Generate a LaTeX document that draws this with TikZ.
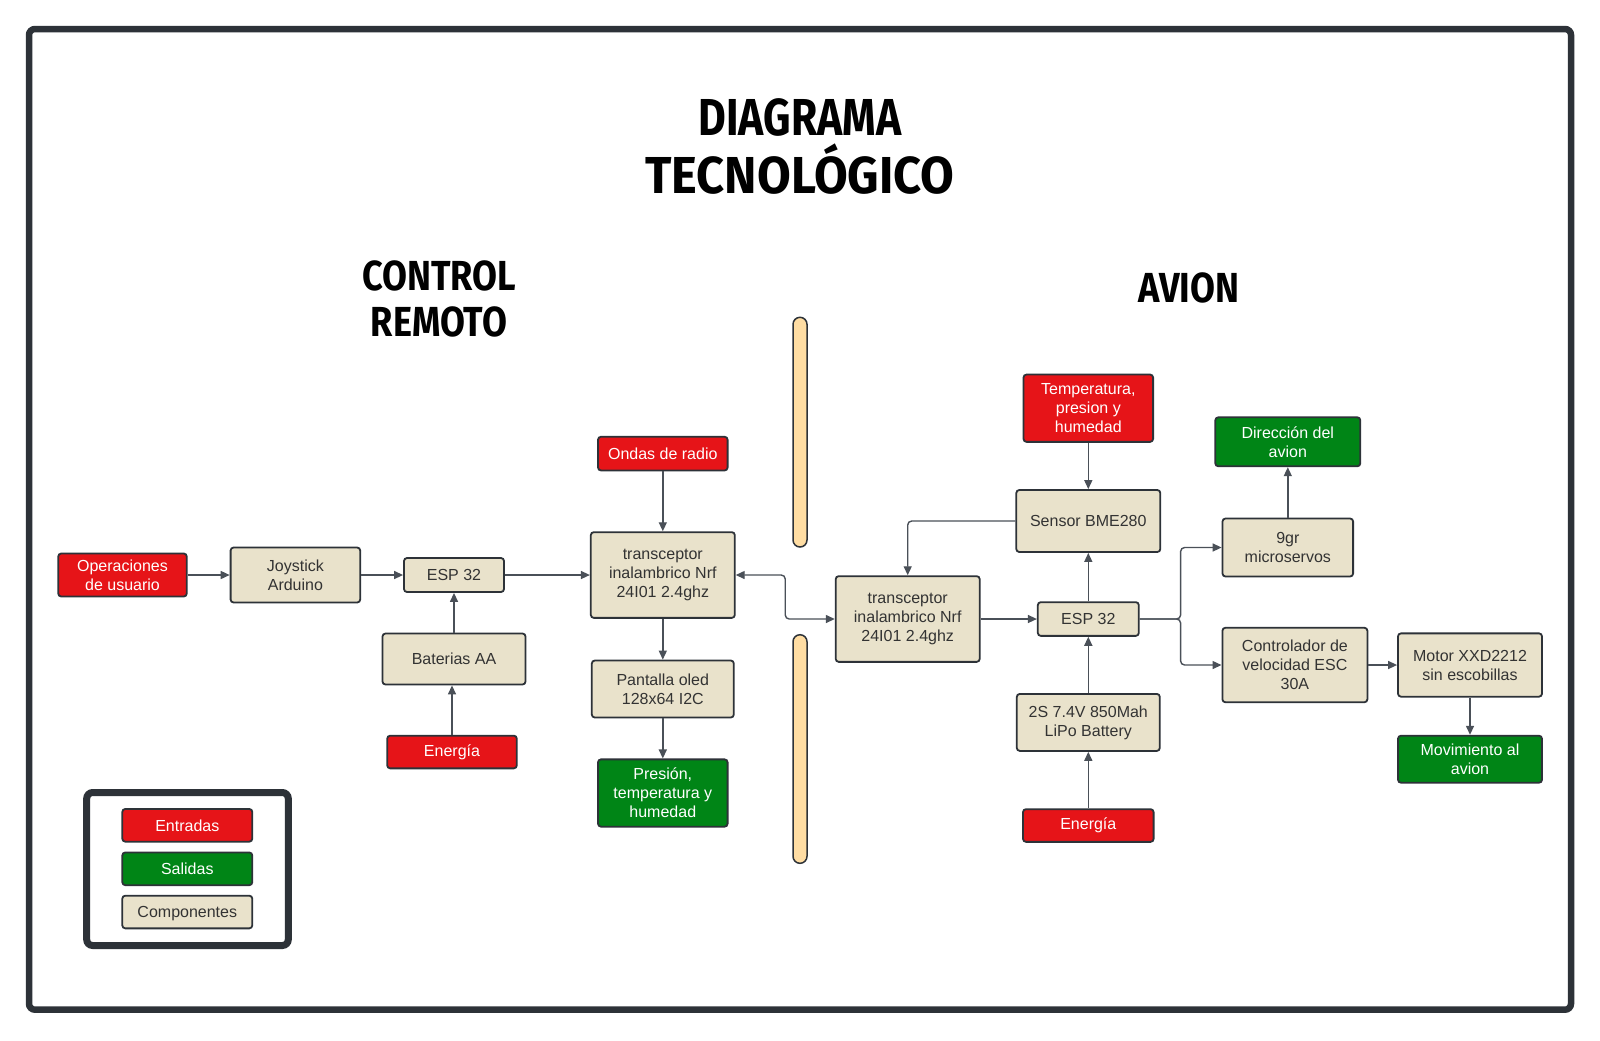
\documentclass[tikz,border=0pt]{standalone}
\usepackage{fontspec}
\setmainfont{Liberation Sans}
\newfontfamily\headfont[FakeStretch=0.82]{Fira Sans}
\newfontfamily\headfontw[FakeStretch=0.94]{Fira Sans}
\newfontfamily\subfont[FakeStretch=0.86]{Fira Sans}
\usetikzlibrary{arrows.meta,calc}
\definecolor{redc}{RGB}{230,20,24}
\definecolor{greenc}{RGB}{0,133,22}
\definecolor{beige}{RGB}{233,226,203}
\definecolor{bordc}{RGB}{45,50,56}
\definecolor{linec}{RGB}{74,80,88}
\definecolor{txtc}{RGB}{51,51,51}
\definecolor{barc}{RGB}{255,221,163}
\tikzset{
  box/.style={draw=bordc, line width=0.9pt, rounded corners=1.5pt, font=\fontsize{8}{9.5}\selectfont, align=center, inner sep=0pt},
  comp/.style={box, fill=beige, text=txtc},
  inp/.style={box, fill=redc, text=white},
  outp/.style={box, fill=greenc, text=white},
  conn/.style={draw=linec, line width=0.7pt, rounded corners=2pt, -{Triangle[length=4.5pt,width=4pt]}},
  conn2/.style={draw=linec, line width=0.7pt, rounded corners=2pt, {Triangle[length=4.5pt,width=4pt]}-{Triangle[length=4.5pt,width=4pt]}},
  head/.style={font=\headfont\bfseries\fontsize{26}{30}\selectfont, text=black, inner sep=0pt, anchor=base},
  headw/.style={font=\headfontw\bfseries\fontsize{26}{30}\selectfont, text=black, inner sep=0pt, anchor=base},
  subhead/.style={font=\subfont\bfseries\fontsize{21}{25}\selectfont, text=black, inner sep=0pt, anchor=base},
  bar/.style={draw=bordc, line width=0.75pt, fill=barc, rounded corners=3.5pt},
}
\begin{document}
\begin{tikzpicture}[x=0.5pt,y=-0.5pt]
\useasboundingbox (0,0) rectangle (1600,1040);
\fill[white] (0,0) rectangle (1600,1040);
% outer frame
\draw[bordc, line width=3.25pt, rounded corners=3pt] (29,29) rectangle (1571,1009.7);
% headings
\node[head] (t1) at (800,135.7) {DIAGRAMA};
\node[headw] (t2) at (800,193.9) {TECNOLÓGICO};
\node[subhead] (s1) at (439,290.8) {CONTROL};
\node[subhead] (s2) at (439,336.7) {REMOTO};
\node[subhead] (s3) at (1189,302) {AVION};
% separator bars
\draw[bar] (793,317.3) rectangle (807,547);
\draw[bar] (793,634.7) rectangle (807,863.3);
% left side
\node[inp, minimum width=64.25pt, minimum height=21.5pt] (op) at (122.5,575) {Operaciones\\de usuario};
\node[comp, minimum width=64.8pt, minimum height=27.5pt] (joy) at (295.4,575) {Joystick\\Arduino};
\node[comp, minimum width=50pt, minimum height=17pt] (esp1) at (454,575) {ESP 32};
\node[comp, minimum width=71.5pt, minimum height=25.5pt] (bat) at (454,659) {Baterias AA};
\node[inp, minimum width=64.8pt, minimum height=16.35pt] (en1) at (452,752) {Energía};
\node[inp, minimum width=64.8pt, minimum height=16.85pt] (ondas) at (662.8,453.6) {Ondas de radio};
\node[comp, minimum width=72pt, minimum height=42.85pt] (tr1) at (662.8,575) {transceptor\\inalambrico Nrf\\24I01 2.4ghz};
\node[comp, minimum width=71pt, minimum height=28.5pt] (pant) at (662.8,689) {Pantalla oled\\128x64 I2C};
\node[outp, minimum width=64.8pt, minimum height=33.65pt] (pres) at (662.8,793) {Presión,\\temperatura y\\humedad};
% right side
\node[comp, minimum width=72pt, minimum height=42.85pt] (tr2) at (907.7,619) {transceptor\\inalambrico Nrf\\24I01 2.4ghz};
\node[inp, minimum width=64.8pt, minimum height=33.65pt] (temp) at (1088.3,408.2) {Temperatura,\\presion y\\humedad};
\node[comp, minimum width=72pt, minimum height=31pt] (sens) at (1088.3,521) {Sensor BME280};
\node[comp, minimum width=50.5pt, minimum height=16.85pt] (esp2) at (1088.3,619) {ESP 32};
\node[comp, minimum width=71.5pt, minimum height=28.5pt] (lipo) at (1088.3,722.4) {2S 7.4V 850Mah\\LiPo Battery};
\node[inp, minimum width=65.3pt, minimum height=16.35pt] (en2) at (1088.3,825.5) {Energía};
\node[outp, minimum width=72.5pt, minimum height=24.5pt] (dir) at (1287.8,441.8) {Dirección del\\avion};
\node[comp, minimum width=65.3pt, minimum height=29pt] (servo) at (1287.8,547.5) {9gr\\microservos};
\node[comp, minimum width=72.5pt, minimum height=37.25pt] (ctrl) at (1294.9,665) {Controlador de\\velocidad ESC\\30A};
\node[comp, minimum width=72pt, minimum height=31.65pt] (motor) at (1470,665) {Motor XXD2212\\sin escobillas};
\node[outp, minimum width=72pt, minimum height=23.5pt] (mov) at (1470,759.2) {Movimiento al\\avion};
% legend
\draw[bordc, line width=3.5pt, rounded corners=3pt] (86.7,792.5) rectangle (288.3,945.5);
\node[inp, minimum width=65pt, minimum height=16.35pt] (lg1) at (187.3,825.3) {Entradas};
\node[outp, minimum width=65pt, minimum height=16.35pt] (lg2) at (187.3,868.8) {Salidas};
\node[comp, minimum width=65pt, minimum height=16.35pt, text depth=0pt] (lg3) at (187.3,912) {Componentes};
% connectors left
\draw[conn] (op) -- (joy);
\draw[conn] (joy) -- (esp1);
\draw[conn] (esp1) -- (tr1);
\draw[conn] (bat) -- (esp1);
\draw[conn] (en1.north) -- (en1.north |- bat.south);
\draw[conn] (ondas) -- (tr1);
\draw[conn] (tr1) -- (pant);
\draw[conn] (pant) -- (pres);
% link between transceivers
\coordinate (mid) at ($(tr1.east)!0.5!(tr2.west)$);
\draw[conn2] (tr1.east) -| (mid) |- (tr2.west);
% connectors right
\draw[conn] (sens.west) -| (tr2.north);
\draw[conn] (tr2) -- (esp2);
\draw[conn] (esp2) -- (sens);
\draw[conn] (temp) -- (sens);
\draw[conn] (lipo) -- (esp2);
\draw[conn] (en2) -- (lipo);
\coordinate (split) at (1180.6,619);
\draw[conn] (esp2.east) -- (split) |- (servo.west);
\draw[conn] (esp2.east) -- (split) |- (ctrl.west);
\draw[conn] (servo) -- (dir);
\draw[conn] (ctrl) -- (motor);
\draw[conn] (motor) -- (mov);
\end{tikzpicture}
\end{document}
